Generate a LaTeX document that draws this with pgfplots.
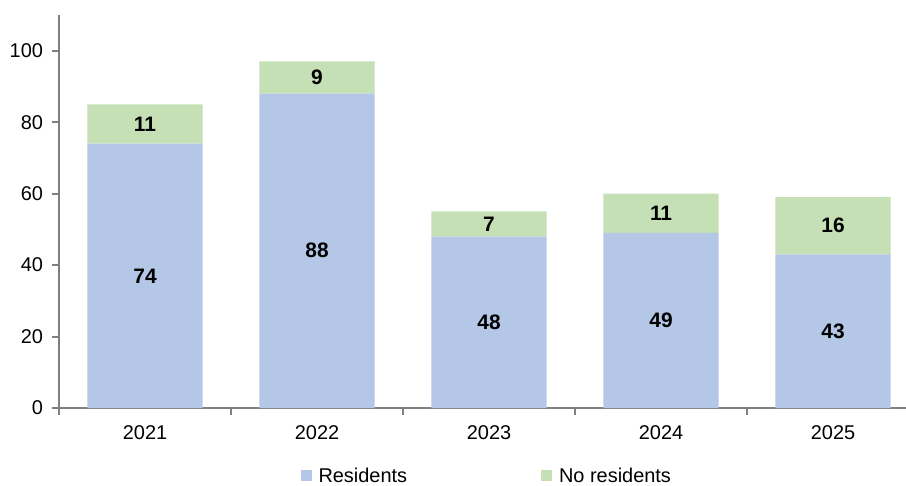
\documentclass[border=0pt]{standalone}
\usepackage{pgfplots}
\pgfplotsset{compat=1.18}
\usepackage{fontspec}
\setmainfont{Liberation Sans}

\definecolor{resblue}{RGB}{180,199,231}
\definecolor{nresgreen}{RGB}{197,224,180}
\definecolor{axgray}{RGB}{128,128,128}

\pgfplotsset{
  common/.style={
    scale only axis,
    width=847bp, height=393bp,
    xmin=-0.5, xmax=4.424,
    ymin=0, ymax=110,
  }
}

\begin{document}
\begin{tikzpicture}
\begin{axis}[
    common,
    ybar stacked,
    bar width=0.67,
    axis lines*=left,
    axis line style={axgray, line width=2.2bp},
    xtick={-0.5,0.5,1.5,2.5,3.5},
    xticklabels={},
    extra x ticks={0,1,2,3,4},
    extra x tick labels={2021,2022,2023,2024,2025},
    extra x tick style={major tick length=0pt},
    xticklabel style={yshift=-14bp},
    yticklabel style={xshift=-6bp},
    ytick={0,20,40,60,80,100},
    tick align=outside,
    major tick length=6.5bp,
    tick style={axgray, line width=2bp},
    tick label style={font=\fontsize{20}{23}\selectfont, text=black},
    /pgf/number format/assume math mode=true,
    legend style={at={(0.505,-0.172)}, anchor=center, draw=none,
      fill=none, legend columns=2,
      font=\fontsize{20}{23}\selectfont,
      /tikz/every even column/.append style={column sep=132bp}},
    legend image code/.code={\path[#1] (0bp,-5.5bp) rectangle (11bp,5.5bp);
      \path (11bp,0bp) -- (16bp,0bp);},
]
\addplot[fill=resblue, draw=none] coordinates {(0,74) (1,88) (2,48) (3,49) (4,43)};
\addlegendentry{Residents}
\addplot[fill=nresgreen, draw=none] coordinates {(0,11) (1,9) (2,7) (3,11) (4,16)};
\addlegendentry{No residents}
\coordinate (bl) at (rel axis cs:0,0);
\coordinate (tr) at (rel axis cs:1,1);
\end{axis}

% value labels, centred in each segment
\begin{axis}[
    common,
    hide axis,
    nodes near coords,
    point meta=explicit symbolic,
    every node near coord/.append style={anchor=center,
      font=\fontsize{21}{24}\selectfont\bfseries, text=black},
]
\addplot[draw=none, mark=none] table[meta=lab] {
x y lab
0 37 74
1 44 88
2 24 48
3 24.5 49
4 21.5 43
};
\addplot[draw=none, mark=none] table[meta=lab] {
x y lab
0 79.5 11
1 92.5 9
2 51.5 7
3 54.5 11
4 51 16
};
\end{axis}
\pgfresetboundingbox
\path ([shift={(-59bp,-78bp)}]bl) rectangle ([shift={(0bp,15bp)}]tr);
\end{tikzpicture}
\end{document}
